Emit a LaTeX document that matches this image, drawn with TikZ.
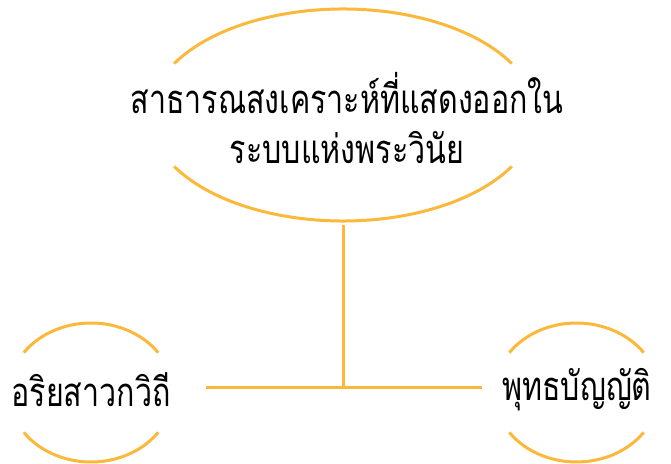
\documentclass[tikz,border=0pt]{standalone}
\usepackage{fontspec}
\newfontfamily\thaifont[Script=Thai, FakeStretch=0.76]{Loma}
\definecolor{gold}{HTML}{FBB83A}
\tikzset{
  link/.style={draw=gold, line width=1.5pt},
  topic/.style={font=\thaifont\fontsize{20}{25}\selectfont, align=center, inner sep=0pt},
}
\begin{document}
\begin{tikzpicture}[x=0.5pt, y=-0.5pt]
    \useasboundingbox (0,0) rectangle (671,464);
    \node[topic, minimum height=107pt] (top) at (347,118) {สาธารณสงเคราะห์ที่แสดงออกใน\\ระบบแห่งพระวินัย};
    \node[topic] (left) at (91,390) {อริยสาวกวิถี};
    \node[topic] (right) at (577,390) {พุทธบัญญัติ};
    \coordinate (mid) at (343,388);
    % arcs round each topic
    \draw[link] (343,115) ++(151:193 and -106) arc[start angle=151, end angle=29, x radius=193, y radius=-106];
    \draw[link] (343,115) ++(209:193 and -106) arc[start angle=209, end angle=331, x radius=193, y radius=-106];
    \draw[link] (91,392.5) ++(145:82 and -69.5) arc[start angle=145, end angle=35, x radius=82, y radius=-69.5];
    \draw[link] (91,392.5) ++(215:82 and -69.5) arc[start angle=215, end angle=325, x radius=82, y radius=-69.5];
    \draw[link] (576.5,392.5) ++(145:82 and -69.5) arc[start angle=145, end angle=35, x radius=82, y radius=-69.5];
    \draw[link] (576.5,392.5) ++(215:82 and -69.5) arc[start angle=215, end angle=325, x radius=82, y radius=-69.5];
    % connectors
    \draw[link] (top.south -| mid) -- (mid);
    \draw[link, shorten <=17.5pt, shorten >=10pt] (left.east |- mid) -- (right.west |- mid);
\end{tikzpicture}
\end{document}
